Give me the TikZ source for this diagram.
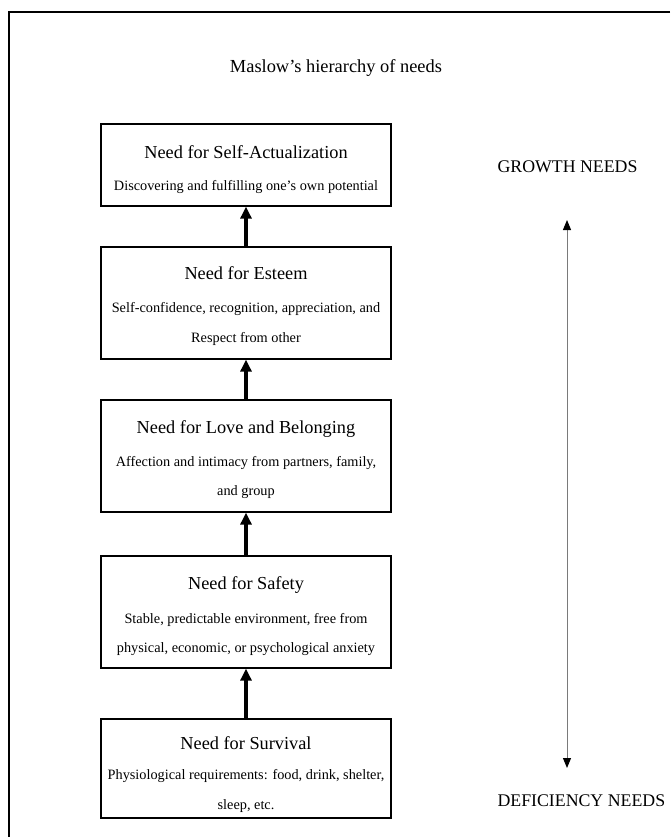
\documentclass[tikz,border=0pt]{standalone}
\usepackage{fontspec}
\setmainfont{Liberation Serif}
\usetikzlibrary{arrows.meta}
\definecolor{shaft}{HTML}{7A7A7A}

\tikzset{
  needbox/.style={draw,line width=1.3pt,minimum width=290pt,inner sep=0pt},
  needhead/.style={anchor=base,font=\fontsize{18.3}{22}\selectfont},
  needline/.style={anchor=base,font=\fontsize{14.3}{18}\selectfont},
  sidelabel/.style={anchor=base west,font=\fontsize{17.8}{22}\selectfont},
  upstep/.style={-{Triangle[length=12pt,width=11pt]},line width=3.5pt},
  growarrow/.style={{Triangle[length=10pt,width=8pt,color=black]}-{Triangle[length=10pt,width=8pt,color=black]},draw=shaft,line width=1pt},
}

\begin{document}
\begin{tikzpicture}[x=1pt,y=-1pt]
  \useasboundingbox (0,0) rectangle (670,837);
  \draw[line width=1.6pt] (670,12) -- (9,12) -- (9,837);
  \node[anchor=base,font=\fontsize{18.4}{22}\selectfont] (title) at (336,73) {Maslow's hierarchy of needs};
  % the five levels, top to bottom
  \node[needbox,minimum height=82pt] (actual) at (246,165) {};
  \node[needhead] (actualhead) at (246,159) {Need for Self-Actualization};
  \node[needline] (actualtext) at (246,190) {Discovering and fulfilling one's own potential};
  \node[needbox,minimum height=112pt] (esteem) at (246,303) {};
  \node[needhead] (esteemhead) at (246,279) {Need for Esteem};
  \node[needline] (esteemtexta) at (246,312) {Self-confidence, recognition, appreciation, and};
  \node[needline] (esteemtextb) at (246,342) {Respect from other};
  \node[needbox,minimum height=112pt] (love) at (246,456) {};
  \node[needhead] (lovehead) at (246,433) {Need for Love and Belonging};
  \node[needline] (lovetexta) at (246,466) {Affection and intimacy from partners, family,};
  \node[needline] (lovetextb) at (246,495) {and group};
  \node[needbox,minimum height=112pt] (safety) at (246,612) {};
  \node[needhead] (safetyhead) at (246,589) {Need for Safety};
  \node[needline] (safetytexta) at (246,623) {Stable, predictable environment, free from};
  \node[needline] (safetytextb) at (246,652) {physical, economic, or psychological anxiety};
  \node[needbox,minimum height=99pt] (survival) at (246,768.5) {};
  \node[needhead] (survivalhead) at (246,749) {Need for Survival};
  \node[needline] (survivaltexta) at (246,779) {Physiological requirements: food, drink, shelter,};
  \node[needline] (survivaltextb) at (246,809) {sleep, etc.};
  \draw[upstep] (esteem.north) -- (actual.south);
  \draw[upstep] (love.north) -- (esteem.south);
  \draw[upstep] (safety.north) -- (love.south);
  \draw[upstep] (survival.north) -- (safety.south);
  % growth / deficiency scale
  \node[sidelabel] (growth) at (494,173) {GROWTH NEEDS};
  \node[sidelabel] (deficiency) at (494,806) {DEFICIENCY NEEDS};
  \coordinate (growtip) at (567,220);
  \coordinate (deftip) at (567,768);
  \draw[growarrow] (growtip) -- (deftip);
\end{tikzpicture}
\end{document}
